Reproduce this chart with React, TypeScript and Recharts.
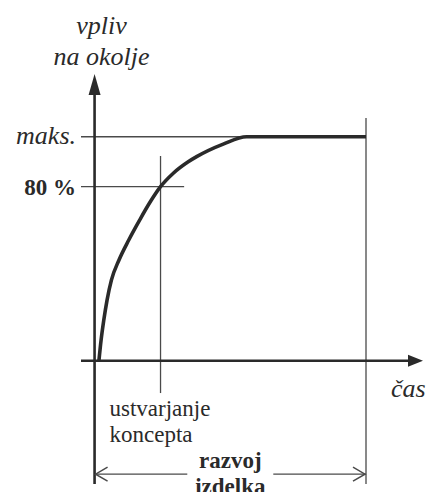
import { LineChart, Line, XAxis, YAxis, ReferenceLine, ReferenceDot } from "recharts";

// curve: impact on environment over time
const timePoints = [1.6, 2.4, 3.4, 4.6, 6.2, 9, 12.6, 16.7, 20.3, 24.3, 29, 34.5, 37.6, 47.4, 56, 100];
const impactValues = [0, 9.2, 18.2, 27.1, 36, 45, 53.9, 63, 70.5, 77.7, 83.7, 88.8, 91.1, 96.7, 100, 100];

const levelLabels = ["maks.", "80 %"];
const levelValues = [100, 77.7];
const conceptTime = 24.3;
const developmentEnd = 100;
const developmentLevel = -50.6;

const yAxisTitle = ["vpliv", "na okolje"];
const xAxisTitle = "čas";
const conceptLabel = ["ustvarjanje", "koncepta"];
const developmentLabel = ["razvoj", "izdelka"];

const data = timePoints.map((t, i) => ({ t, impact: impactValues[i] }));

const X_MIN = -5;
const X_MAX = 121;
const Y_MIN = -55;
const Y_MAX = 128;

const INK = "#2a2a2a";
const THIN = "#4a4a4a";
const serif = { fontFamily: "Liberation Serif, Times New Roman, DejaVu Serif, serif" };

export default function App() {
  return (
    <div style={{ position: "absolute", left: 0, top: 0, width: 430, height: 492, background: "#fff" }}>
      <LineChart
        width={430}
        height={492}
        data={data}
        margin={{ top: 74, right: 7, left: 81, bottom: 8 }}
      >
        <XAxis dataKey="t" type="number" domain={[X_MIN, X_MAX]} allowDataOverflow hide />
        <YAxis type="number" domain={[Y_MIN, Y_MAX]} allowDataOverflow hide />

        {/* thin guide lines */}
        <ReferenceLine
          segment={[{ x: X_MIN, y: levelValues[0] }, { x: developmentEnd, y: levelValues[0] }]}
          stroke={THIN}
          strokeWidth={1.3}
          ifOverflow="visible"
        />
        <ReferenceLine
          segment={[{ x: X_MIN, y: levelValues[1] }, { x: 33, y: levelValues[1] }]}
          stroke={THIN}
          strokeWidth={1.3}
          ifOverflow="visible"
        />
        <ReferenceLine
          segment={[{ x: conceptTime, y: 91.4 }, { x: conceptTime, y: -14.4 }]}
          stroke={THIN}
          strokeWidth={1.3}
          ifOverflow="visible"
        />
        <ReferenceLine
          segment={[{ x: developmentEnd, y: 108.4 }, { x: developmentEnd, y: Y_MIN }]}
          stroke={THIN}
          strokeWidth={1.3}
          ifOverflow="visible"
        />
        <ReferenceLine
          segment={[{ x: 0, y: developmentLevel }, { x: developmentEnd, y: developmentLevel }]}
          stroke={THIN}
          strokeWidth={1.3}
          ifOverflow="visible"
        />
        <ReferenceDot
          x={0}
          y={developmentLevel}
          ifOverflow="visible"
          shape={(p: any) => (
            <polyline
              points={`${p.cx + 13},${p.cy - 7} ${p.cx + 1},${p.cy} ${p.cx + 13},${p.cy + 7}`}
              fill="none"
              stroke={THIN}
              strokeWidth={1.5}
            />
          )}
        />
        <ReferenceDot
          x={developmentEnd}
          y={developmentLevel}
          ifOverflow="visible"
          shape={(p: any) => (
            <polyline
              points={`${p.cx - 13},${p.cy - 7} ${p.cx - 1},${p.cy} ${p.cx - 13},${p.cy + 7}`}
              fill="none"
              stroke={THIN}
              strokeWidth={1.5}
            />
          )}
        />

        {/* axes with arrows */}
        <ReferenceLine
          segment={[{ x: X_MIN, y: 0 }, { x: 116, y: 0 }]}
          stroke={INK}
          strokeWidth={2.6}
          ifOverflow="visible"
        />
        <ReferenceLine
          segment={[{ x: 0, y: Y_MIN }, { x: 0, y: 119 }]}
          stroke={INK}
          strokeWidth={2.6}
          ifOverflow="visible"
        />
        <ReferenceDot
          x={X_MAX}
          y={0}
          ifOverflow="visible"
          shape={(p: any) => (
            <polygon
              points={`${p.cx},${p.cy} ${p.cx - 15},${p.cy - 6} ${p.cx - 15},${p.cy + 6}`}
              fill={INK}
            />
          )}
        />
        <ReferenceDot
          x={0}
          y={Y_MAX}
          ifOverflow="visible"
          shape={(p: any) => (
            <polygon
              points={`${p.cx},${p.cy} ${p.cx - 6},${p.cy + 21} ${p.cx + 6},${p.cy + 21}`}
              fill={INK}
            />
          )}
        />

        <Line
          dataKey="impact"
          type="monotone"
          stroke={INK}
          strokeWidth={3.6}
          dot={false}
          activeDot={false}
          isAnimationActive={false}
        />

        {/* labels */}
        <ReferenceDot
          x={0}
          y={Y_MAX}
          ifOverflow="visible"
          shape={(p: any) => (
            <text style={{ ...serif, fontStyle: "italic", fontSize: 26 }} fill={INK} textAnchor="middle">
              <tspan x={p.cx + 7} y={p.cy - 40}>{yAxisTitle[0]}</tspan>
              <tspan x={p.cx + 7} y={p.cy - 9}>{yAxisTitle[1]}</tspan>
            </text>
          )}
        />
        <ReferenceDot
          x={X_MIN}
          y={levelValues[0]}
          ifOverflow="visible"
          shape={(p: any) => (
            <text x={p.cx - 5} y={p.cy + 7} style={{ ...serif, fontStyle: "italic", fontSize: 26 }} fill={INK} textAnchor="end">
              {levelLabels[0]}
            </text>
          )}
        />
        <ReferenceDot
          x={X_MIN}
          y={levelValues[1]}
          ifOverflow="visible"
          shape={(p: any) => (
            <text x={p.cx - 5} y={p.cy + 8} style={{ ...serif, fontWeight: "bold", fontSize: 23 }} fill={INK} textAnchor="end">
              {levelLabels[1]}
            </text>
          )}
        />
        <ReferenceDot
          x={X_MAX}
          y={0}
          ifOverflow="visible"
          shape={(p: any) => (
            <text x={p.cx - 32} y={p.cy + 36} style={{ ...serif, fontStyle: "italic", fontSize: 26 }} fill={INK}>
              {xAxisTitle}
            </text>
          )}
        />
        <ReferenceDot
          x={conceptTime}
          y={-14.4}
          ifOverflow="visible"
          shape={(p: any) => (
            <text style={{ ...serif, fontSize: 23 }} fill={INK}>
              <tspan x={p.cx - 51} y={p.cy + 23}>{conceptLabel[0]}</tspan>
              <tspan x={p.cx - 51} y={p.cy + 49}>{conceptLabel[1]}</tspan>
            </text>
          )}
        />
        <ReferenceDot
          x={developmentEnd / 2}
          y={developmentLevel}
          ifOverflow="visible"
          shape={(p: any) => (
            <g>
              <rect x={p.cx - 43} y={p.cy - 26} width={86} height={50} fill="#fff" />
              <text style={{ ...serif, fontWeight: "bold", fontSize: 23 }} fill={INK} textAnchor="middle">
                <tspan x={p.cx} y={p.cy - 6}>{developmentLabel[0]}</tspan>
                <tspan x={p.cx} y={p.cy + 20}>{developmentLabel[1]}</tspan>
              </text>
            </g>
          )}
        />
      </LineChart>
    </div>
  );
}
